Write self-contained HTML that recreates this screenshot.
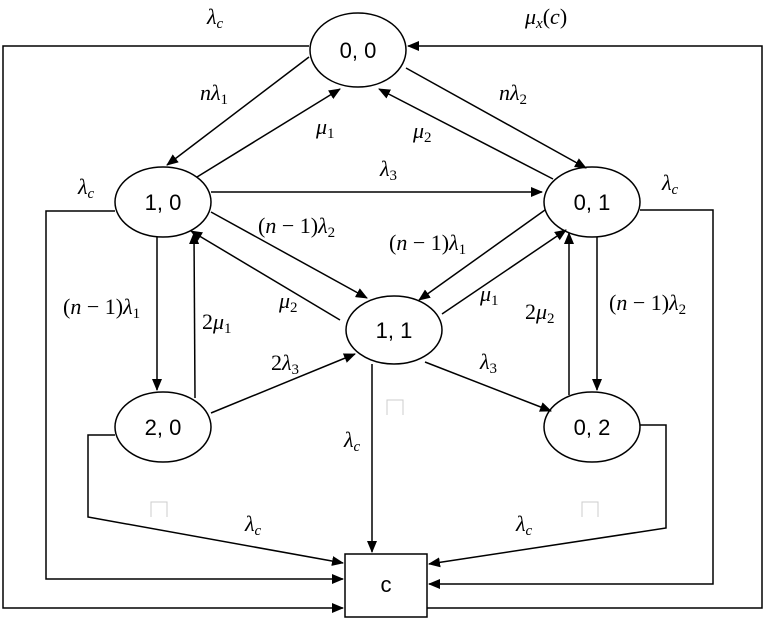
<!DOCTYPE html>
<html><head><meta charset="utf-8"><style>
html,body{margin:0;padding:0;background:#fff;}
svg{display:block;}
.m{font-family:"Liberation Serif",serif;font-style:italic;font-size:22px;}
.n{font-family:"Liberation Serif",serif;font-style:normal;}
.s{font-size:15px;}
.lab{font-family:"Liberation Sans",sans-serif;font-size:22px;}
</style></head><body>
<svg width="764" height="621" viewBox="0 0 764 621" xmlns="http://www.w3.org/2000/svg">
<defs><marker id="a" markerWidth="12" markerHeight="10" refX="11" refY="5" orient="auto" markerUnits="userSpaceOnUse"><path d="M0,0 L12,5 L0,10 z" fill="#000"/></marker></defs>
<g fill="none" stroke="#000" stroke-width="1.5">
<ellipse cx="358" cy="50" rx="48" ry="37"/>
<ellipse cx="163" cy="202" rx="48" ry="35"/>
<ellipse cx="592" cy="202" rx="48" ry="35"/>
<ellipse cx="394" cy="330" rx="48" ry="34"/>
<ellipse cx="163" cy="427" rx="48" ry="35"/>
<ellipse cx="592" cy="427" rx="48" ry="35"/>
<rect x="345" y="554" width="82" height="63"/>
<polyline points="309,46 3,46 3,608 343,608" marker-end="url(#a)"/>
<polyline points="427,608 762,608 762,46 408,46" marker-end="url(#a)"/>
<polyline points="115,211 46,211 46,579 343,579" marker-end="url(#a)"/>
<polyline points="640,210 713,210 713,584 429,584" marker-end="url(#a)"/>
<polyline points="115,435 88,435 88,517 343,563" marker-end="url(#a)"/>
<polyline points="640,425 666,425 666,528 429,564" marker-end="url(#a)"/>
<line x1="372" y1="364" x2="372" y2="552" marker-end="url(#a)"/>
<line x1="309" y1="57" x2="167" y2="165" marker-end="url(#a)"/>
<line x1="197" y1="177" x2="340" y2="89" marker-end="url(#a)"/>
<line x1="406" y1="68" x2="586" y2="168" marker-end="url(#a)"/>
<line x1="553" y1="179" x2="379" y2="89" marker-end="url(#a)"/>
<line x1="211" y1="192" x2="542" y2="192" marker-end="url(#a)"/>
<line x1="211" y1="212" x2="367" y2="298" marker-end="url(#a)"/>
<line x1="340" y1="320" x2="191" y2="231" marker-end="url(#a)"/>
<line x1="545" y1="210" x2="419" y2="300" marker-end="url(#a)"/>
<line x1="442" y1="314" x2="566" y2="230" marker-end="url(#a)"/>
<line x1="157" y1="237" x2="157" y2="390" marker-end="url(#a)"/>
<line x1="195" y1="398" x2="194" y2="233" marker-end="url(#a)"/>
<line x1="597" y1="237" x2="597" y2="390" marker-end="url(#a)"/>
<line x1="569" y1="395" x2="569" y2="233" marker-end="url(#a)"/>
<line x1="211" y1="413" x2="355" y2="354" marker-end="url(#a)"/>
<line x1="425" y1="362" x2="551" y2="411" marker-end="url(#a)"/>
</g>
<g fill="none" stroke="#ccc" stroke-width="1">
<polyline points="387,415 387,400 403,400 403,415"/>
<polyline points="151,517 151,502 167,502 167,517"/>
<polyline points="582,517 582,502 598,502 598,517"/>
</g>
<g class="lab" text-anchor="middle">
<text x="358" y="58">0, 0</text>
<text x="163" y="210">1, 0</text>
<text x="592" y="210">0, 1</text>
<text x="394" y="338">1, 1</text>
<text x="163" y="435">2, 0</text>
<text x="592" y="435">0, 2</text>
<text x="386" y="592">c</text>
</g>
<g class="m">
<text x="207" y="24">λ<tspan class="s" dy="4">c</tspan></text>
<text x="525" y="24">μ<tspan class="s" dy="4">x</tspan><tspan dy="-4" class="n">(</tspan>c<tspan class="n">)</tspan></text>
<text x="200" y="100">n<tspan>λ</tspan><tspan class="s n" dy="4">1</tspan></text>
<text x="499" y="100">n<tspan>λ</tspan><tspan class="s n" dy="4">2</tspan></text>
<text x="316" y="134">μ<tspan class="s n" dy="4">1</tspan></text>
<text x="413" y="138">μ<tspan class="s n" dy="4">2</tspan></text>
<text x="380" y="176">λ<tspan class="s n" dy="4">3</tspan></text>
<text x="78" y="194">λ<tspan class="s" dy="4">c</tspan></text>
<text x="662" y="190">λ<tspan class="s" dy="4">c</tspan></text>
<text x="258" y="233"><tspan class="n">(</tspan>n <tspan class="n">− 1)</tspan>λ<tspan class="s n" dy="4">2</tspan></text>
<text x="389" y="250"><tspan class="n">(</tspan>n <tspan class="n">− 1)</tspan>λ<tspan class="s n" dy="4">1</tspan></text>
<text x="63" y="314"><tspan class="n">(</tspan>n <tspan class="n">− 1)</tspan>λ<tspan class="s n" dy="4">1</tspan></text>
<text x="609" y="310"><tspan class="n">(</tspan>n <tspan class="n">− 1)</tspan>λ<tspan class="s n" dy="4">2</tspan></text>
<text x="202" y="329"><tspan class="n">2</tspan>μ<tspan class="s n" dy="4">1</tspan></text>
<text x="279" y="308">μ<tspan class="s n" dy="4">2</tspan></text>
<text x="480" y="301">μ<tspan class="s n" dy="4">1</tspan></text>
<text x="525" y="319"><tspan class="n">2</tspan>μ<tspan class="s n" dy="4">2</tspan></text>
<text x="271" y="370"><tspan class="n">2</tspan>λ<tspan class="s n" dy="4">3</tspan></text>
<text x="480" y="369">λ<tspan class="s n" dy="4">3</tspan></text>
<text x="344" y="447">λ<tspan class="s" dy="4">c</tspan></text>
<text x="245" y="531">λ<tspan class="s" dy="4">c</tspan></text>
<text x="516" y="531">λ<tspan class="s" dy="4">c</tspan></text>
</g>
</svg>
</body></html>
